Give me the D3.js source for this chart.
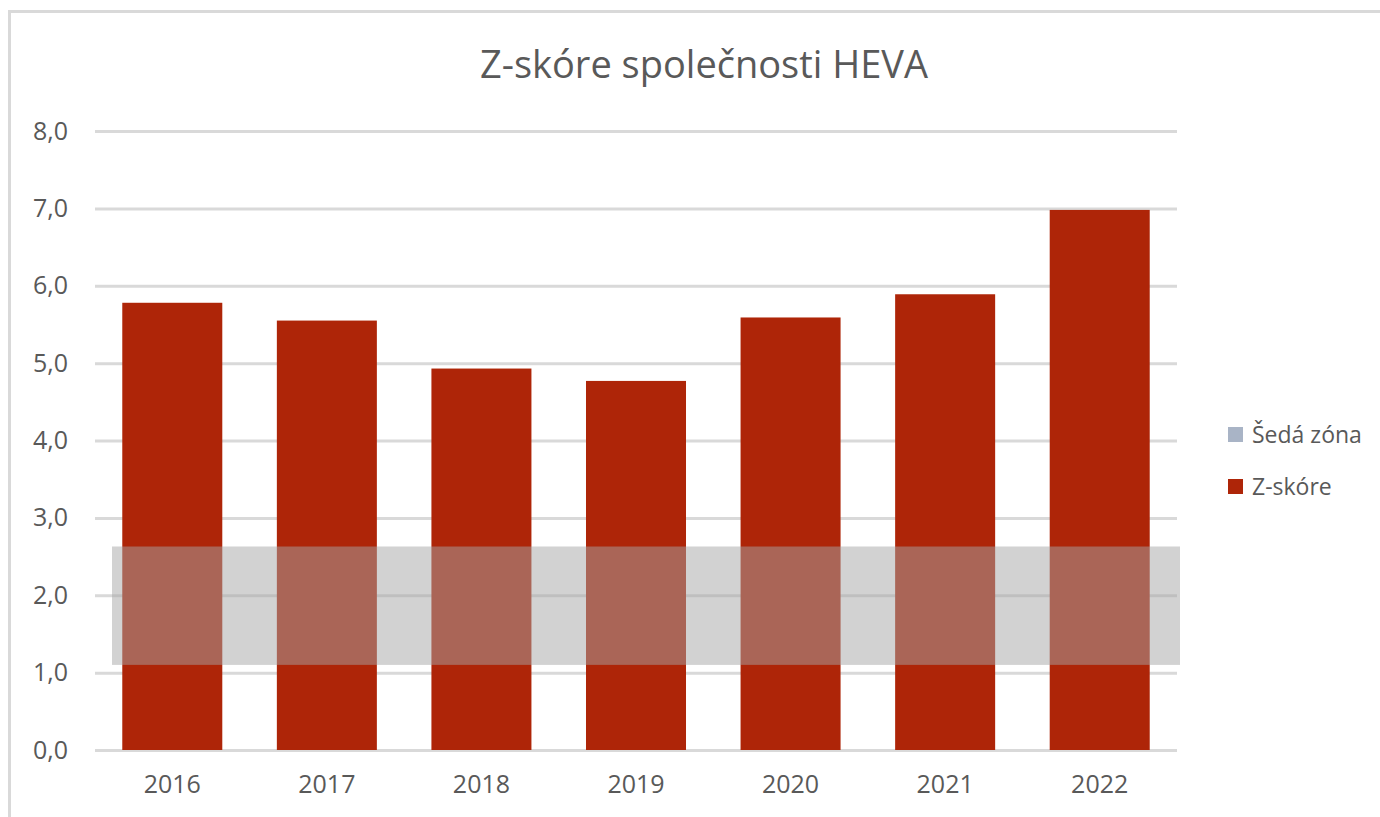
<!DOCTYPE html>
<html>
<head>
<meta charset="utf-8">
<script src="https://cdn.jsdelivr.net/npm/d3@7"></script>
<style>
  body { margin: 0; background: #fff; }
  svg { display: block; }
  .axis text { font-family: "Open Sans", sans-serif; fill: #595959; }
</style>
</head>
<body>
<div class="one"></div>
<script>
// data
let years = ["2016", "2017", "2018", "2019", "2020", "2021", "2022"];
let zScore = [5.78, 5.55, 4.93, 4.77, 5.59, 5.89, 6.98];
let greyZone = [1.1, 2.63];
let yTicks = [0, 1, 2, 3, 4, 5, 6, 7, 8];
let legendLabels = ["Šedá zóna", "Z-skóre"];

let width = 1380, height = 817;
let margin = {top: 131, left: 95, right: 203, bottom: 67};

let svg = d3.select(".one").append("svg")
  .attr("width", width)
  .attr("height", height);

// chart border
svg.append("rect")
  .attr("x", 9.5).attr("y", 11.5)
  .attr("width", width + 20).attr("height", height + 20)
  .attr("fill", "none")
  .attr("stroke", "#d9d9d9")
  .attr("stroke-width", 3);

let xScale = d3.scaleBand()
  .domain(years)
  .range([margin.left, width - margin.right])
  .paddingInner(0.353)
  .paddingOuter(0.1765);

let yScale = d3.scaleLinear()
  .domain([0, 8])
  .range([height - margin.bottom, margin.top]);

let yAxis = d3.axisLeft(yScale)
  .tickValues(yTicks)
  .tickSize(-(width - margin.left - margin.right))
  .tickPadding(27)
  .tickFormat(d => d3.format(".1f")(d).replace(".", ","));

let y = svg.append("g")
  .attr("class", "axis")
  .attr("transform", "translate(" + margin.left + ",0)")
  .call(yAxis);
y.select(".domain").remove();
y.selectAll(".tick line").attr("stroke", "#d9d9d9").attr("stroke-width", 3);
y.selectAll(".tick text").attr("font-size", 25);

let xAxis = d3.axisBottom(xScale).tickSize(0).tickPadding(25);
let x = svg.append("g")
  .attr("class", "axis")
  .attr("transform", "translate(0," + (height - margin.bottom) + ")")
  .call(xAxis);
x.select(".domain").remove();
x.selectAll(".tick text").attr("font-size", 25);

// bars
svg.selectAll(".bar")
  .data(zScore)
  .enter().append("rect")
  .attr("class", "bar")
  .attr("x", (d, i) => xScale(years[i]))
  .attr("width", xScale.bandwidth())
  .attr("y", d => yScale(d))
  .attr("height", d => yScale(0) - yScale(d))
  .attr("fill", "#ae2508");

// grey zone band
svg.append("rect")
  .attr("x", xScale.range()[0] + 17)
  .attr("width", xScale.range()[1] - xScale.range()[0] - 14)
  .attr("y", yScale(greyZone[1]))
  .attr("height", yScale(greyZone[0]) - yScale(greyZone[1]))
  .attr("fill", "#a6a6a6")
  .attr("fill-opacity", 0.5);

// title
svg.append("text")
  .attr("x", 704)
  .attr("y", 78)
  .attr("text-anchor", "middle")
  .attr("font-family", "Open Sans, sans-serif")
  .attr("font-size", 38)
  .attr("fill", "#595959")
  .text("Z-skóre společnosti HEVA");

// legend
let legendColors = ["#a9b4c6", "#ae2508"];
let legend = svg.selectAll(".legend")
  .data(legendLabels)
  .enter().append("g")
  .attr("class", "legend")
  .attr("transform", (d, i) => "translate(1228," + (427 + i * 52) + ")");
legend.append("rect")
  .attr("width", 15).attr("height", 15)
  .attr("fill", (d, i) => legendColors[i]);
legend.append("text")
  .attr("x", 24)
  .attr("y", 16)
  .attr("font-family", "Open Sans, sans-serif")
  .attr("font-size", 23)
  .attr("fill", "#595959")
  .text(d => d);
</script>
</body>
</html>
